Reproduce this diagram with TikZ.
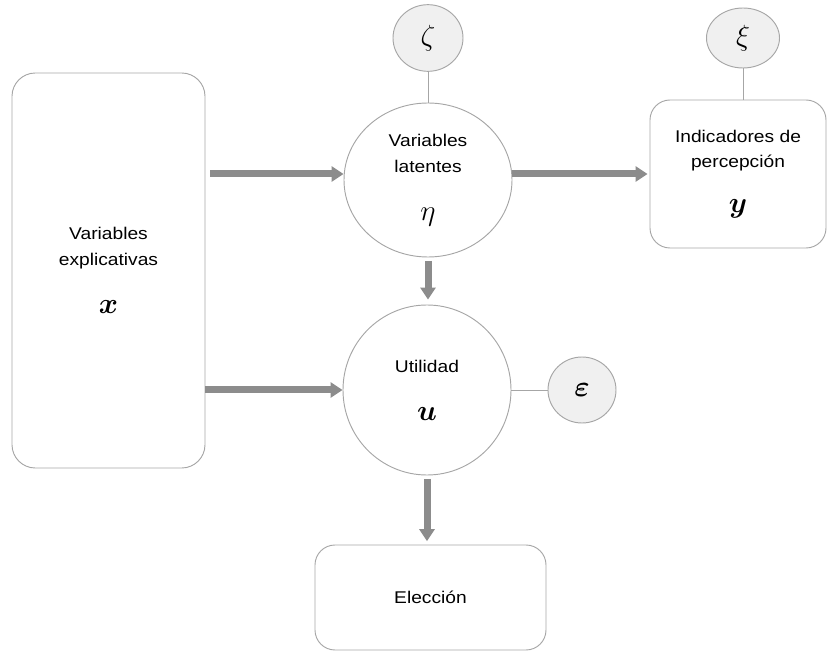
\documentclass[tikz,border=0pt]{standalone}
\usepackage{amsmath,bm}
\usepackage{fontspec}
\setmainfont[FakeStretch=1.13]{Liberation Sans}
\usetikzlibrary{shapes.geometric,arrows.meta}
\definecolor{grisborde}{HTML}{A6A6A6}
\definecolor{grisflecha}{HTML}{8C8C8C}
\definecolor{grisfondo}{HTML}{F0F0F0}
\newcommand{\letra}[1]{{\fontsize{23}{26}\selectfont$#1$}}

\begin{document}
\begin{tikzpicture}[x=0.03cm, y=-0.03cm, font=\fontsize{14.5}{22}\selectfont,
	caja/.style={draw=grisborde, line width=0.8pt, rounded corners=0.7cm, align=center, inner sep=0pt},
	elipse/.style={ellipse, draw=grisborde, line width=0.8pt, align=center, inner sep=0pt},
	error/.style={ellipse, draw=grisborde, fill=grisfondo, line width=0.8pt, inner sep=0pt, font=\fontsize{23}{26}\selectfont},
	flecha/.style={draw=grisflecha, line width=0.21cm, -{Triangle[length=0.36cm,width=0.45cm]}},
	linea/.style={draw=grisborde, line width=0.8pt}]
			\useasboundingbox (0,0) rectangle (827,652);
			\node[caja, minimum width=5.79cm, minimum height=11.85cm](X) at (108.5,270.5) {Variables\\explicativas\\[19pt]\letra{\bm{x}}};
			\node[elipse, minimum width=5.04cm, minimum height=4.62cm](Eta) at (428,180) {Variables\\latentes\\[19pt]\letra{\eta}};
			\node[caja, rounded corners=0.6cm, minimum width=5.28cm, minimum height=4.44cm](Y) at (738,174) {Indicadores de\\percepción\\[16pt]\letra{\bm{y}}};
			\node[elipse, minimum width=5.04cm, minimum height=5.1cm](U) at (427,390) {Utilidad\\[19pt]\letra{\bm{u}}};
			\node[caja, rounded corners=0.6cm, minimum width=6.93cm, minimum height=3.15cm](E) at (430.5,597.5) {Elección};
			\node[error, minimum width=2.1cm, minimum height=2.0cm](Zeta) at (428,38) {$\zeta$};
			\node[error, minimum width=2.19cm, minimum height=1.8cm](Xi) at (743,38) {$\xi$};
			\node[error, minimum width=2.04cm, minimum height=1.98cm](Eps) at (582,390) {$\bm{\varepsilon}$};
			\draw[flecha, shorten <=0.15cm](X.east |- Y.west) -- (Eta.west |- Y.west);
			\draw[flecha, shorten >=0.06cm](Eta.east |- Y.west) -- (Y.west);
			\draw[flecha, shorten <=0.1cm, shorten >=0.15cm](Eta.south) -- (Eta.south |- U.north);
			\draw[flecha](X.east |- U.west) -- (U.west);
			\draw[flecha, shorten <=0.1cm, shorten >=0.1cm](U.south) -- (U.south |- E.north);
			\draw[linea](Zeta) -- (Eta);
			\draw[linea](Xi.south) -- (Xi.south |- Y.north);
			\draw[linea](U) -- (Eps);
		\end{tikzpicture}
\end{document}
